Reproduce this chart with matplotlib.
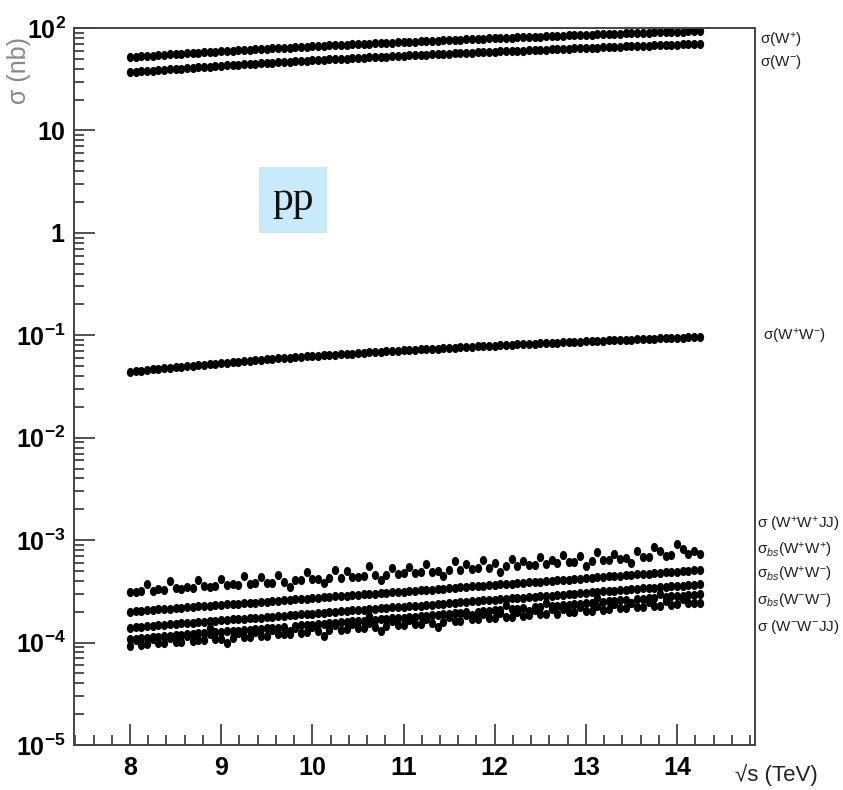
import numpy as np
import matplotlib
matplotlib.use('Agg')
import matplotlib.pyplot as plt
import matplotlib.font_manager as fm
from matplotlib.path import Path
from matplotlib.transforms import Affine2D
from matplotlib.ticker import FixedLocator, FixedFormatter, LogLocator, MultipleLocator, NullFormatter

# pick a condensed sans if there is one
names = {f.name for f in fm.fontManager.ttflist}
narrow = 'Liberation Sans Narrow' if 'Liberation Sans Narrow' in names else 'Liberation Sans'
plt.rcParams['font.family'] = [narrow, 'DejaVu Sans']
plt.rcParams['mathtext.fontset'] = 'custom'
plt.rcParams['mathtext.rm'] = narrow
plt.rcParams['mathtext.bf'] = narrow + ':bold'
plt.rcParams['mathtext.it'] = narrow + ':italic'

# ---- data (sqrt(s) grid in TeV, cross sections in nb) ----
sqrt_s = np.linspace(8.0, 14.25, 101)

sigma_wp = [52.0, 52.5, 52.9, 53.4, 53.8, 54.3, 54.7, 55.2, 55.6, 56.1, 56.5, 57.0, 57.4, 57.9, 58.3,
            58.8, 59.2, 59.7, 60.1, 60.6, 61.0, 61.5, 61.9, 62.4, 62.8, 63.3,
            63.7, 64.1, 64.5, 64.9, 65.4, 65.8, 66.2, 66.6, 67.0, 67.5, 67.9, 68.3, 68.7, 69.1,
            69.6, 70.0, 70.4, 70.8, 71.2, 71.7, 72.1, 72.5, 72.9, 73.3, 73.8,
            74.2, 74.6, 75.0, 75.4, 75.8, 76.2, 76.6, 77.0, 77.4, 77.8, 78.2, 78.6, 79.0, 79.4,
            79.8, 80.2, 80.6, 81.0, 81.4, 81.8, 82.2, 82.6, 83.0, 83.4, 83.8,
            84.1, 84.5, 84.9, 85.3, 85.7, 86.1, 86.5, 86.9, 87.3, 87.7, 88.0, 88.4, 88.8, 89.2,
            89.6, 90.0, 90.4, 90.8, 91.2, 91.6, 91.9, 92.3, 92.7, 93.1, 93.5]

sigma_wm = [37.0, 37.4, 37.7, 38.1, 38.4, 38.8, 39.2, 39.5, 39.9, 40.2, 40.6, 41.0, 41.3, 41.7, 42.0,
            42.4, 42.8, 43.1, 43.5, 43.8, 44.2, 44.6, 44.9, 45.3, 45.6, 46.0,
            46.3, 46.7, 47.0, 47.3, 47.7, 48.0, 48.3, 48.6, 49.0, 49.3, 49.6, 50.0, 50.3, 50.6,
            50.9, 51.3, 51.6, 51.9, 52.3, 52.6, 52.9, 53.3, 53.6, 53.9, 54.3,
            54.6, 54.9, 55.2, 55.5, 55.9, 56.2, 56.5, 56.8, 57.1, 57.4, 57.8, 58.1, 58.4, 58.7,
            59.0, 59.4, 59.7, 60.0, 60.3, 60.6, 60.9, 61.3, 61.6, 61.9, 62.3,
            62.6, 62.9, 63.2, 63.5, 63.8, 64.1, 64.4, 64.7, 65.0, 65.4, 65.7, 66.0, 66.3, 66.6,
            66.9, 67.2, 67.5, 67.8, 68.1, 68.4, 68.8, 69.1, 69.4, 69.7, 70.0]

# W+W- in units of 1e-2 nb
sigma_wpwm = [4.40, 4.46, 4.52, 4.58, 4.64, 4.70, 4.76, 4.82, 4.88, 4.94, 5.00, 5.06, 5.12, 5.18, 5.24,
              5.30, 5.36, 5.42, 5.48, 5.54, 5.60, 5.66, 5.72, 5.78, 5.84, 5.90,
              5.95, 6.01, 6.06, 6.11, 6.17, 6.22, 6.27, 6.32, 6.38, 6.43, 6.48, 6.54, 6.59, 6.64,
              6.70, 6.75, 6.80, 6.85, 6.91, 6.96, 7.01, 7.07, 7.12, 7.17, 7.23,
              7.28, 7.33, 7.38, 7.43, 7.48, 7.53, 7.58, 7.63, 7.68, 7.73, 7.78, 7.83, 7.88, 7.93,
              7.98, 8.03, 8.08, 8.13, 8.18, 8.23, 8.28, 8.33, 8.38, 8.43, 8.48,
              8.53, 8.57, 8.62, 8.67, 8.71, 8.76, 8.81, 8.86, 8.90, 8.95, 9.00, 9.04, 9.09, 9.14,
              9.18, 9.23, 9.28, 9.33, 9.37, 9.42, 9.47, 9.51, 9.56, 9.61, 9.65]

# the five small channels, in units of 1e-4 nb
sigma_wpwp_jj = [3.10, 3.13, 3.16, 3.75, 3.22, 3.30, 3.28, 3.95, 3.40, 3.37, 3.45, 3.43, 4.05, 3.55, 3.52,
                 3.60, 4.20, 3.61, 3.70, 3.67, 4.45, 3.73, 3.82, 4.40, 3.82, 3.85,
                 4.60, 3.93, 3.50, 4.05, 4.04, 4.85, 4.15, 4.15, 3.80, 4.23, 5.10, 4.30, 4.95, 4.38,
                 4.41, 4.50, 5.60, 4.53, 4.05, 4.60, 5.40, 4.68, 4.75, 5.50, 4.79,
                 4.84, 5.85, 4.93, 4.98, 4.45, 5.07, 6.20, 5.16, 5.90, 5.26, 5.30, 6.40, 5.40, 5.95,
                 4.90, 5.53, 6.60, 5.63, 6.30, 5.72, 5.77, 6.90, 5.86, 6.40, 5.95,
                 7.20, 6.07, 6.13, 7.00, 5.60, 6.30, 7.60, 6.41, 6.47, 7.30, 6.59, 6.65, 6.00, 7.90,
                 6.82, 6.88, 8.60, 7.80, 7.05, 7.11, 9.20, 8.20, 7.28, 7.90, 7.40]

sigma_bs_wpwp = [2.00, 2.02, 2.04, 2.06, 2.08, 2.11, 2.13, 2.15, 2.17, 2.19, 2.21, 2.23, 2.25, 2.27, 2.30,
                 2.32, 2.34, 2.36, 2.38, 2.40, 2.42, 2.44, 2.46, 2.49, 2.51, 2.53,
                 2.56, 2.58, 2.61, 2.64, 2.66, 2.69, 2.72, 2.74, 2.77, 2.80, 2.82, 2.85, 2.88, 2.90,
                 2.93, 2.96, 2.98, 3.01, 3.04, 3.06, 3.09, 3.12, 3.14, 3.17, 3.19,
                 3.23, 3.26, 3.29, 3.33, 3.36, 3.40, 3.43, 3.46, 3.50, 3.53, 3.56, 3.60, 3.63, 3.67,
                 3.70, 3.73, 3.77, 3.80, 3.83, 3.87, 3.90, 3.94, 3.97, 4.00, 4.04,
                 4.08, 4.12, 4.17, 4.21, 4.25, 4.29, 4.34, 4.38, 4.42, 4.47, 4.51, 4.55, 4.59, 4.64,
                 4.68, 4.72, 4.76, 4.81, 4.85, 4.89, 4.93, 4.98, 5.02, 5.06, 5.10]

sigma_bs_wpwm = [1.40, 1.42, 1.43, 1.45, 1.46, 1.48, 1.49, 1.51, 1.52, 1.54, 1.55, 1.57, 1.58, 1.60, 1.62,
                 1.63, 1.65, 1.66, 1.68, 1.69, 1.71, 1.72, 1.74, 1.75, 1.77, 1.79,
                 1.81, 1.83, 1.85, 1.87, 1.89, 1.90, 1.92, 1.94, 1.96, 1.98, 2.00, 2.02, 2.04, 2.06,
                 2.08, 2.10, 2.12, 2.14, 2.16, 2.18, 2.20, 2.22, 2.24, 2.26, 2.28,
                 2.30, 2.33, 2.35, 2.38, 2.40, 2.43, 2.45, 2.48, 2.50, 2.53, 2.55, 2.58, 2.60, 2.63,
                 2.65, 2.68, 2.70, 2.73, 2.75, 2.78, 2.80, 2.83, 2.85, 2.88, 2.90,
                 2.93, 2.97, 3.00, 3.03, 3.06, 3.09, 3.12, 3.16, 3.19, 3.22, 3.25, 3.28, 3.31, 3.35,
                 3.38, 3.41, 3.44, 3.47, 3.50, 3.54, 3.57, 3.60, 3.63, 3.66, 3.70]

sigma_bs_wmwm = [1.08, 1.09, 1.10, 1.12, 1.13, 1.14, 1.15, 1.17, 1.18, 1.19, 1.20, 1.22, 1.23, 1.24, 1.38,
                 1.26, 1.28, 1.29, 1.30, 1.31, 1.33, 1.34, 1.35, 1.36, 1.38, 1.39,
                 1.40, 1.42, 1.30, 1.45, 1.47, 1.48, 1.50, 1.52, 1.53, 1.55, 1.56, 1.58, 1.60, 1.61,
                 1.63, 1.64, 1.80, 1.67, 1.69, 1.71, 1.72, 1.74, 1.75, 1.77, 1.79,
                 1.81, 1.83, 1.85, 1.87, 1.89, 1.91, 1.93, 1.95, 1.97, 1.85, 2.01, 2.03, 2.05, 2.07,
                 2.09, 2.35, 2.13, 2.15, 2.17, 2.05, 2.21, 2.23, 2.45, 2.27, 2.30,
                 2.32, 2.35, 2.37, 2.40, 2.43, 2.45, 2.70, 2.50, 2.53, 2.56, 2.58, 2.61, 2.45, 2.66,
                 2.69, 2.71, 2.74, 2.95, 2.79, 2.82, 2.84, 2.87, 2.90, 2.92, 2.95]

sigma_wmwm_jj = [0.93, 1.05, 0.95, 0.96, 1.08, 0.98, 0.99, 1.12, 1.01, 1.02, 1.15, 1.04, 1.05, 1.06, 1.20,
                 1.08, 1.09, 0.98, 1.11, 1.25, 1.13, 1.14, 1.28, 1.16, 1.17, 1.32,
                 1.20, 1.21, 1.22, 1.38, 1.25, 1.26, 1.42, 1.29, 1.17, 1.32, 1.48, 1.34, 1.35, 1.52,
                 1.38, 1.39, 1.56, 1.42, 1.30, 1.45, 1.62, 1.47, 1.48, 1.66, 1.51,
                 1.53, 1.70, 1.56, 1.42, 1.59, 1.78, 1.63, 1.64, 1.84, 1.68, 1.69, 1.90, 1.73, 1.74,
                 1.95, 1.78, 1.79, 2.00, 1.83, 1.84, 2.06, 1.88, 1.89, 2.12, 1.92,
                 2.15, 1.97, 1.99, 2.23, 2.03, 2.05, 2.30, 2.09, 2.11, 2.36, 2.16, 2.18, 2.44, 2.22,
                 2.24, 2.50, 2.28, 2.30, 2.57, 2.35, 2.37, 2.65, 2.41, 2.43, 2.45]

series = [
    (np.array(sigma_wp), 1.0),
    (np.array(sigma_wm), 1.0),
    (np.array(sigma_wpwm), 1e-2),
    (np.array(sigma_wpwp_jj), 1e-4),
    (np.array(sigma_bs_wpwp), 1e-4),
    (np.array(sigma_bs_wpwm), 1e-4),
    (np.array(sigma_bs_wmwm), 1e-4),
    (np.array(sigma_wmwm_jj), 1e-4),
]

right_labels = [r'σ(W$^{+}$)', r'σ(W$^{-}$)', r'σ(W$^{+}$W$^{-}$)',
                r'σ (W$^{+}$W$^{+}$JJ)', r'σ$_{bs}$(W$^{+}$W$^{+}$)', r'σ$_{bs}$(W$^{+}$W$^{-}$)',
                r'σ$_{bs}$(W$^{-}$W$^{-}$)', r'σ (W$^{-}$W$^{-}$JJ)']
label_px = [(760, 40), (760, 62), (763, 336), (757, 525), (757, 550), (757, 575), (757, 600), (757, 627)]

y_ticks = [1e-5, 1e-4, 1e-3, 1e-2, 1e-1, 1, 10, 100]
y_tick_labels = [r'$\mathbf{10^{-5}}$', r'$\mathbf{10^{-4}}$', r'$\mathbf{10^{-3}}$', r'$\mathbf{10^{-2}}$',
                 r'$\mathbf{10^{-1}}$', r'$\mathbf{1}$', r'$\mathbf{10}$', r'$\mathbf{10^{2}}$']
x_ticks = [8, 9, 10, 11, 12, 13, 14]

# ---- figure ----
W, H = 843, 790
fig = plt.figure(figsize=(W / 100, H / 100), dpi=100)
ax = fig.add_axes([74 / W, 1 - 745 / H, (755 - 74) / W, (745 - 28) / H])

# dots are slightly taller than wide
dot = Path.unit_circle().transformed(Affine2D().scale(0.8, 1.0))
for vals, unit in series:
    ax.plot(sqrt_s, vals * unit, linestyle='none', marker=dot, markersize=6.6,
            color='black', markeredgewidth=0)

ax.set_yscale('log')
ax.set_ylim(1e-5, 1e2)
ax.set_xlim(7.386, 14.855)

ax.yaxis.set_major_locator(FixedLocator(y_ticks))
ax.yaxis.set_major_formatter(FixedFormatter(y_tick_labels))
ax.yaxis.set_minor_locator(LogLocator(base=10, subs=np.arange(2, 10), numticks=20))
ax.yaxis.set_minor_formatter(NullFormatter())
ax.xaxis.set_major_locator(FixedLocator(x_ticks))
ax.xaxis.set_minor_locator(MultipleLocator(0.2))
ax.set_xticklabels([str(t) for t in x_ticks], fontweight='bold')

for side in ax.spines.values():
    side.set_color('#444444')
    side.set_linewidth(1.4)
ax.tick_params(which='both', direction='in', top=False, right=False, color='#333333', width=1.2)
ax.tick_params(which='major', length=15, labelsize=18)
ax.tick_params(axis='x', which='major', pad=8)
ax.tick_params(axis='y', which='major', pad=6)
ax.tick_params(which='minor', length=7.5)

# "pp" tag
ax.text(0.322, 0.76, 'pp', transform=ax.transAxes, ha='center', va='center',
        fontsize=30, family=['Liberation Serif', 'DejaVu Serif'], color='#111111',
        bbox=dict(boxstyle='square,pad=0.32', facecolor='#c8eafa', edgecolor='none'))

for txt, (px, py) in zip(right_labels, label_px):
    fig.text(px / W, 1 - py / H, txt, ha='left', va='center', fontsize=11, color='#222222')

fig.text(19 / W, 1 - 70 / H, 'σ (nb)', rotation=90, ha='center', va='center',
         fontsize=18, color='#888888')
fig.text(776 / W, 1 - 775 / H, '√s (TeV)', ha='center', va='center', fontsize=16, color='#222222')

fig.savefig('out.png', dpi=100)
